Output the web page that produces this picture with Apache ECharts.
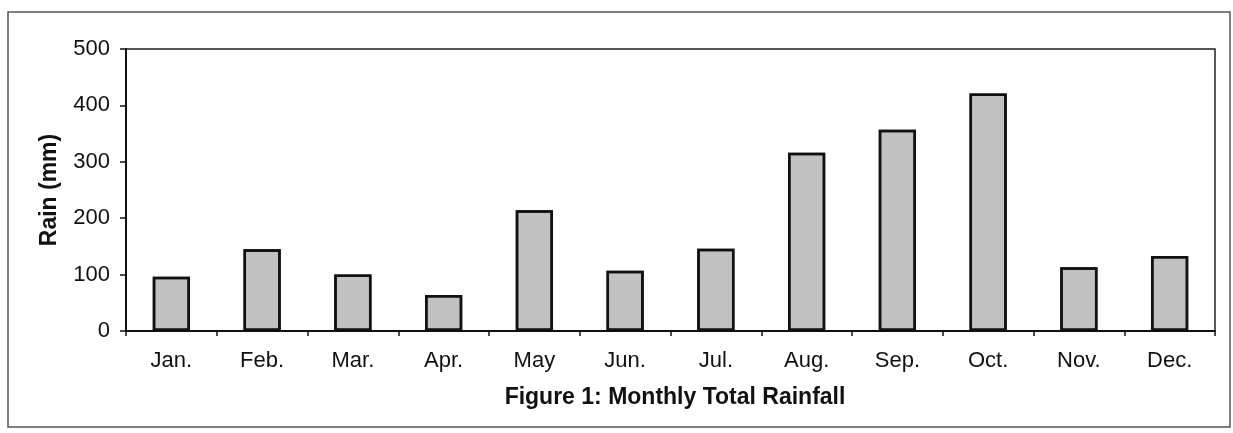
<!DOCTYPE html>
<html>
<head>
<meta charset="utf-8">
<script src="https://cdn.jsdelivr.net/npm/echarts@6/dist/echarts.min.js"></script>
<style>
html,body{margin:0;padding:0;background:#fff;}
#chart{width:1233px;height:433px;}
</style>
</head>
<body>
<div id="chart"></div>
<script>
var categories = ['Jan.', 'Feb.', 'Mar.', 'Apr.', 'May', 'Jun.', 'Jul.', 'Aug.', 'Sep.', 'Oct.', 'Nov.', 'Dec.'];
var rainfall = [96, 145, 100, 64, 214, 107, 146, 316, 357, 421, 113, 133];
var yTicks = [0, 100, 200, 300, 400, 500];

var chart = echarts.init(document.getElementById('chart'));
var font = '"Liberation Sans", Arial, sans-serif';
chart.setOption({
  animation: false,
  backgroundColor: '#ffffff',
  graphic: [{
    type: 'rect',
    shape: {x: 8, y: 12, width: 1222, height: 415},
    style: {fill: 'none', stroke: '#555', lineWidth: 1.5},
    silent: true
  }],
  title: {
    text: 'Figure 1: Monthly Total Rainfall',
    left: 670, top: 381, textAlign: 'center',
    textStyle: {fontFamily: font, fontSize: 23, fontWeight: 'bold', color: '#111'}
  },
  grid: {
    left: 126, right: 18, top: 49, bottom: 102,
    show: true, borderColor: '#222', borderWidth: 1.5, backgroundColor: 'transparent'
  },
  xAxis: {
    type: 'category',
    data: categories,
    axisLine: {lineStyle: {color: '#111', width: 2}},
    axisTick: {show: true, alignWithLabel: false, length: 5, lineStyle: {color: '#111', width: 1.5}},
    axisLabel: {fontFamily: font, fontSize: 22, color: '#111', margin: 19}
  },
  yAxis: {
    type: 'value',
    min: 0, max: 500, interval: 100,
    name: 'Rain (mm)',
    nameLocation: 'middle',
    nameGap: 65,
    nameTextStyle: {fontFamily: font, fontSize: 23, fontWeight: 'bold', color: '#111'},
    axisLine: {show: true, lineStyle: {color: '#111', width: 2}},
    axisTick: {show: true, length: 6, lineStyle: {color: '#111', width: 1.5}},
    splitLine: {show: false},
    axisLabel: {
      fontFamily: font, fontSize: 22, color: '#111', margin: 16,
      formatter: function (v) { return yTicks.indexOf(v) >= 0 ? String(v) : ''; }
    }
  },
  series: [{
    type: 'bar',
    data: rainfall,
    barWidth: '41%',
    itemStyle: {
      color: '#c4c4c4',
      borderColor: '#111',
      borderWidth: 2.5,
      decal: {symbol: 'rect', symbolSize: 0.5, dashArrayX: [1, 1], dashArrayY: [1, 1], color: 'rgba(90,90,90,0.35)'}
    }
  }]
});
</script>
</body>
</html>
